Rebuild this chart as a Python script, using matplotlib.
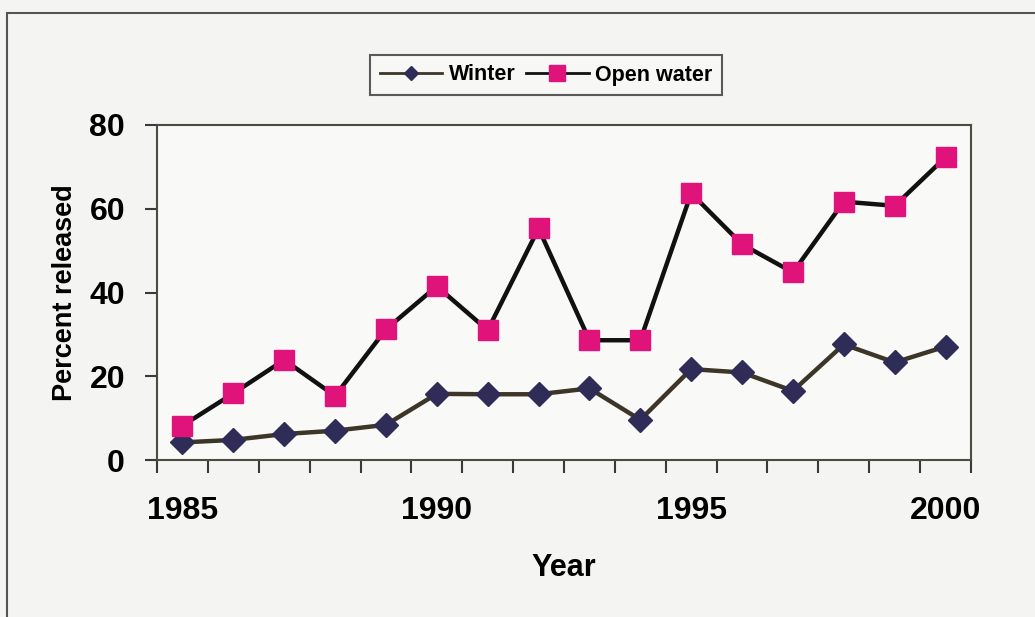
import numpy as np
import matplotlib.pyplot as plt
from matplotlib.patches import Rectangle
from matplotlib.lines import Line2D

years = list(range(1985, 2001))
winter = [4.2, 4.8, 6.2, 7.0, 8.4, 15.8, 15.7, 15.7, 17.1, 9.6,
          21.7, 20.9, 16.5, 27.6, 23.3, 27.1]
open_water = [8.2, 15.9, 23.9, 15.3, 31.2, 41.5, 31.0, 55.3, 28.6, 28.6,
              63.7, 51.5, 44.8, 61.7, 60.7, 72.3]
year_labels = ["1985", "1990", "1995", "2000"]

plt.rcParams['font.family'] = ['Liberation Sans', 'DejaVu Sans']
plt.rcParams['font.weight'] = 'bold'

fig = plt.figure(figsize=(10.35, 6.17), dpi=100, facecolor='#f4f4f2')
ax = fig.add_axes([157/1035, 1-460/617, (971-157)/1035, (460-125)/617])
ax.set_facecolor('#f9f9f8')

# chart frame (left/top edges visible)
fig.patches.append(Rectangle((7/1035, -0.2), 1.2, 1.2 - 13/617,
                             transform=fig.transFigure, fill=False,
                             edgecolor='#555555', linewidth=1.5, zorder=0))

x = np.arange(len(years))
ax.plot(x, winter, color='#3d3628', linewidth=3.2, marker='D', markersize=12,
        markerfacecolor='#302c58', markeredgecolor='#302c58', label='Winter', zorder=3)
ax.plot(x, open_water, color='#111111', linewidth=3.2, marker='s', markersize=14,
        markerfacecolor='#e0137b', markeredgecolor='#e0137b', label='Open water', zorder=3)

ax.set_xlim(-0.5, len(years) - 0.5)
ax.set_ylim(0, 80)

# category axis: tick marks between years, labels every fifth year
ax.set_xticks([years.index(int(y)) for y in year_labels])
ax.set_xticklabels(year_labels)
ax.set_xticks(np.arange(-0.5, len(years)), minor=True)
ax.tick_params(axis='x', which='major', length=0, pad=26, labelsize=23)
ax.tick_params(axis='x', which='minor', length=9, width=1.5, color='#3a3a3a', direction='out')

ax.set_yticks([0, 20, 40, 60, 80])
ax.tick_params(axis='y', length=9, width=1.5, color='#3a3a3a', pad=14, labelsize=23)

for s in ax.spines.values():
    s.set_color('#4d4a40')
    s.set_linewidth(1.5)

ax.set_xlabel('Year', fontsize=22, fontweight='bold', labelpad=19)
ax.set_ylabel('Percent released', fontsize=19.5, fontweight='bold', labelpad=8)

handles = [
    Line2D([], [], color='#3d3628', linewidth=2, marker='D', markersize=7,
           markerfacecolor='#302c58', markeredgecolor='#302c58'),
    Line2D([], [], color='#111111', linewidth=2, marker='s', markersize=11,
           markerfacecolor='#e0137b', markeredgecolor='#e0137b'),
]
leg = fig.legend(handles, ['Winter', 'Open water'], loc='center',
                 bbox_to_anchor=(546/1035, 1-75/617), ncol=2, fontsize=15.5,
                 frameon=True, fancybox=False, handlelength=2.9,
                 handletextpad=0.3, columnspacing=0.5, borderpad=0.45)
leg.get_frame().set_edgecolor('#333333')
leg.get_frame().set_linewidth(1.5)
leg.get_frame().set_facecolor('#f9f9f8')

fig.savefig('out.png', dpi=100, facecolor=fig.get_facecolor())
